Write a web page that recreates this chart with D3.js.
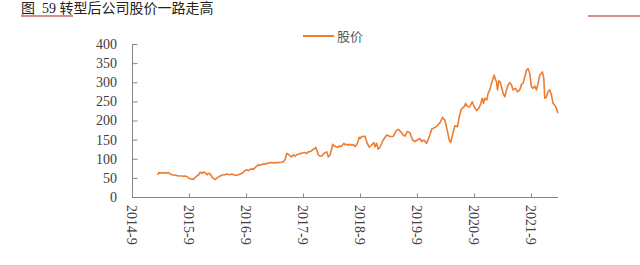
<!DOCTYPE html>
<html>
<head>
<meta charset="utf-8">
<script type="text/javascript" src="https://cdn.jsdelivr.net/npm/d3@7/dist/d3.min.js"></script>
<style>
    body { margin: 0; background: #fff; }
    svg { display: block; }
</style>
</head>
<body>
<svg width="640" height="265"></svg>

<script type="text/javascript">
    // 股价 (readings)
    var dates = [
        "2015-02-12","2015-02-21","2015-03-01","2015-03-12","2015-03-22","2015-04-02","2015-04-13","2015-04-23",
        "2015-05-04","2015-05-15","2015-05-25","2015-06-05","2015-06-16","2015-06-26","2015-07-07","2015-07-18",
        "2015-07-28","2015-08-08","2015-08-19","2015-08-29","2015-09-09","2015-09-20","2015-09-30","2015-10-11",
        "2015-10-22","2015-11-01","2015-11-12","2015-11-23","2015-12-03","2015-12-14","2015-12-25","2016-01-04",
        "2016-01-15","2016-01-26","2016-02-05","2016-02-16","2016-02-27","2016-03-08","2016-03-19","2016-03-30",
        "2016-04-09","2016-04-20","2016-05-01","2016-05-11","2016-05-22","2016-06-02","2016-06-12","2016-06-23",
        "2016-07-04","2016-07-14","2016-07-25","2016-08-05","2016-08-15","2016-08-26","2016-09-06","2016-09-16",
        "2016-09-27","2016-10-08","2016-10-18","2016-10-29",
        "2016-11-09","2016-11-19","2016-11-30","2016-12-11","2016-12-21","2017-01-01","2017-01-12","2017-01-22",
        "2017-02-02","2017-02-13","2017-02-23","2017-03-06","2017-03-17","2017-03-27","2017-04-07","2017-04-18",
        "2017-04-28","2017-05-09","2017-05-20","2017-05-30","2017-06-10","2017-06-21","2017-07-01","2017-07-12",
        "2017-07-23","2017-08-02","2017-08-13","2017-08-24","2017-09-03","2017-09-14","2017-09-25","2017-10-05",
        "2017-10-16","2017-10-27","2017-11-06","2017-11-17","2017-11-21","2017-11-28","2017-12-08","2017-12-19",
        "2017-12-30","2018-01-09","2018-01-20","2018-01-31","2018-02-10","2018-02-21","2018-03-04","2018-03-10",
        "2018-03-19","2018-03-29","2018-04-11","2018-04-20","2018-05-03","2018-05-11","2018-05-20","2018-05-28",
        "2018-06-08","2018-06-18","2018-06-29","2018-07-10","2018-07-20","2018-07-31","2018-08-11","2018-08-21",
        "2018-08-26","2018-09-03","2018-09-12","2018-09-22","2018-10-03",
        "2018-10-18","2018-10-31","2018-11-15","2018-11-30","2018-12-06","2018-12-17","2018-12-27","2019-01-07",
        "2019-01-28","2019-02-19","2019-03-12","2019-04-02","2019-04-20","2019-05-04","2019-05-20","2019-06-05",
        "2019-06-16","2019-07-01","2019-07-18","2019-08-04","2019-08-19","2019-09-03","2019-09-20","2019-10-01",
        "2019-10-16","2019-11-02","2019-11-23","2019-12-04","2019-12-25","2020-01-09","2020-01-26","2020-02-12",
        "2020-02-27","2020-03-13","2020-03-26","2020-04-04","2020-04-16","2020-05-01","2020-05-18","2020-05-27",
        "2020-06-09","2020-06-17","2020-06-30","2020-07-09","2020-07-21","2020-08-05","2020-08-20","2020-09-02",
        "2020-09-17","2020-10-02","2020-10-15","2020-10-23","2020-11-01","2020-11-09","2020-11-22","2020-11-30",
        "2020-12-11","2020-12-22","2021-01-01","2021-01-08","2021-01-17","2021-01-23","2021-01-29","2021-02-07",
        "2021-02-15","2021-02-24","2021-03-06","2021-03-17","2021-03-28","2021-04-07","2021-04-18","2021-04-29",
        "2021-05-09","2021-05-25","2021-06-06","2021-06-21","2021-07-02","2021-07-12","2021-07-23","2021-08-03",
        "2021-08-13","2021-08-24","2021-09-04","2021-09-14","2021-09-25","2021-10-06","2021-10-16","2021-10-27",
        "2021-11-07","2021-11-13","2021-11-22","2021-11-28","2021-12-09","2021-12-19","2021-12-30","2022-01-10",
        "2022-01-20","2022-01-31","2022-02-11","2022-02-21"
    ];
    var prices = [
        58, 64, 62, 64, 62, 64, 62, 64,
        60, 58, 57.5, 57, 56, 55, 55, 55,
        54, 55, 53, 50, 47, 47, 46, 51,
        55, 57.5, 65, 62, 65, 64, 58, 62,
        60, 53, 48, 46, 49, 53, 55, 57,
        58, 58, 60, 59, 58, 60, 58, 57,
        57, 58, 60, 62, 65, 69, 71, 69,
        72, 74, 72, 77,
        81, 84, 83, 85, 86, 86, 88, 88,
        90, 90, 89, 90, 89, 91, 90, 91,
        92, 98, 114, 112, 107, 105, 110, 107,
        111, 112, 114, 114, 116, 116, 114, 118,
        119, 121, 125, 126, 130, 123, 110, 107,
        107, 112, 116, 118, 105, 110, 127, 138,
        133, 132, 130, 133, 132, 135, 140, 137,
        138, 135, 138, 135, 137, 132, 137, 147,
        156, 153, 158, 158, 159,
        140, 130, 136, 142, 131, 140, 125, 130,
        149, 162, 158, 158, 173, 177, 171, 162,
        159, 171, 168, 149, 145, 149, 153, 145,
        149, 140, 162, 177, 182, 186, 194, 208,
        201, 175, 149, 142, 162, 186, 184, 205,
        227, 232, 236, 245, 236, 236, 249, 236,
        226, 232, 245, 258, 245, 258, 254, 271,
        280, 297, 310, 319, 306, 301, 280, 304,
        301, 288, 271, 262, 280, 293, 299, 293,
        280, 284, 275, 280, 295, 297, 314, 332,
        336, 323, 288, 284, 290, 280, 297, 319,
        323, 327, 310, 258, 262, 275, 280, 267,
        245, 240, 232, 219
    ];
    var yTicks = [0, 50, 100, 150, 200, 250, 300, 350, 400];
    var xTickDates = ["2014-09-01","2015-09-01","2016-09-01","2017-09-01","2018-09-01","2019-09-01","2020-09-01","2021-09-01"];
    var xTickLabels = ["2014-9","2015-9","2016-9","2017-9","2018-9","2019-9","2020-9","2021-9"];
    var xDomain = ["2014-09-01", "2022-02-21"];

    var parse = d3.timeParse("%Y-%m-%d");
    var pts = dates.map(function (d, i) { return { date: parse(d), v: prices[i] }; });

    var svg = d3.select("svg");
    var serif = "'Liberation Serif', 'Times New Roman', serif";
    var cjk = "'Liberation Serif', 'Noto Sans CJK SC', sans-serif";

    var x = d3.scaleTime().domain(xDomain.map(parse)).range([132, 558]);
    var y = d3.scaleLinear().domain([0, 400]).range([197, 44]);

    // title + red rules
    svg.append("text")
        .attr("x", 21).attr("y", 13)
        .attr("font-family", cjk).attr("font-size", 14)
        .attr("fill", "#222")
        .style("white-space", "pre")
        .text("图  59 转型后公司股价一路走高");
    svg.append("line")
        .attr("x1", 21).attr("x2", 73).attr("y1", 16).attr("y2", 16)
        .attr("stroke", "#a31f1f").attr("stroke-width", 1.2);
    svg.append("line")
        .attr("x1", 588).attr("x2", 640).attr("y1", 16).attr("y2", 16)
        .attr("stroke", "#a31f1f").attr("stroke-width", 1.2);

    // legend
    svg.append("line")
        .attr("x1", 303).attr("x2", 334).attr("y1", 36).attr("y2", 36)
        .attr("stroke", "#ED7D31").attr("stroke-width", 2);
    svg.append("text")
        .attr("x", 337).attr("y", 36).attr("dy", "0.35em")
        .attr("font-family", "'Noto Sans CJK SC', sans-serif").attr("font-size", 13)
        .attr("fill", "#595959")
        .text("股价");

    // y axis
    var yAxis = d3.axisRight(y).tickValues(yTicks).tickSize(5).tickFormat("");
    var gy = svg.append("g").attr("transform", "translate(132,0)").call(yAxis);
    gy.select(".domain").attr("d", "M0.5," + y(400) + "V" + y(0)).attr("stroke", "#868686");
    gy.selectAll(".tick line").attr("stroke", "#868686").attr("transform", "translate(0.5,0)");
    svg.selectAll("text.ylab")
        .data(yTicks)
        .enter()
        .append("text")
            .attr("class", "ylab")
            .attr("x", 117).attr("y", function (d) { return y(d); })
            .attr("dy", "0.35em")
            .attr("text-anchor", "end")
            .attr("font-family", serif).attr("font-size", 14)
            .attr("fill", "#404040")
            .text(function (d) { return d; });

    // x axis
    var xAxis = d3.axisTop(x).tickValues(xTickDates.map(parse)).tickSize(4).tickFormat("");
    var gx = svg.append("g").attr("transform", "translate(0,197.5)").call(xAxis);
    gx.select(".domain").attr("d", "M132,0H558").attr("stroke", "#868686");
    gx.selectAll(".tick line").attr("stroke", "#868686");
    svg.selectAll("text.xlab")
        .data(xTickDates)
        .enter()
        .append("text")
            .attr("class", "xlab")
            .attr("transform", function (d) { return "translate(" + x(parse(d)) + ",205) rotate(90)"; })
            .attr("dy", "0.35em")
            .attr("font-family", serif).attr("font-size", 14)
            .attr("fill", "#404040")
            .text(function (d, i) { return xTickLabels[i]; });

    // price line
    var line = d3.line()
        .x(function (d) { return x(d.date); })
        .y(function (d) { return y(d.v); });
    svg.append("path")
        .datum(pts)
        .attr("d", line)
        .attr("fill", "none")
        .attr("stroke", "#ED7D31")
        .attr("stroke-width", 1.6)
        .attr("stroke-linejoin", "round");
</script>
</body>
</html>
